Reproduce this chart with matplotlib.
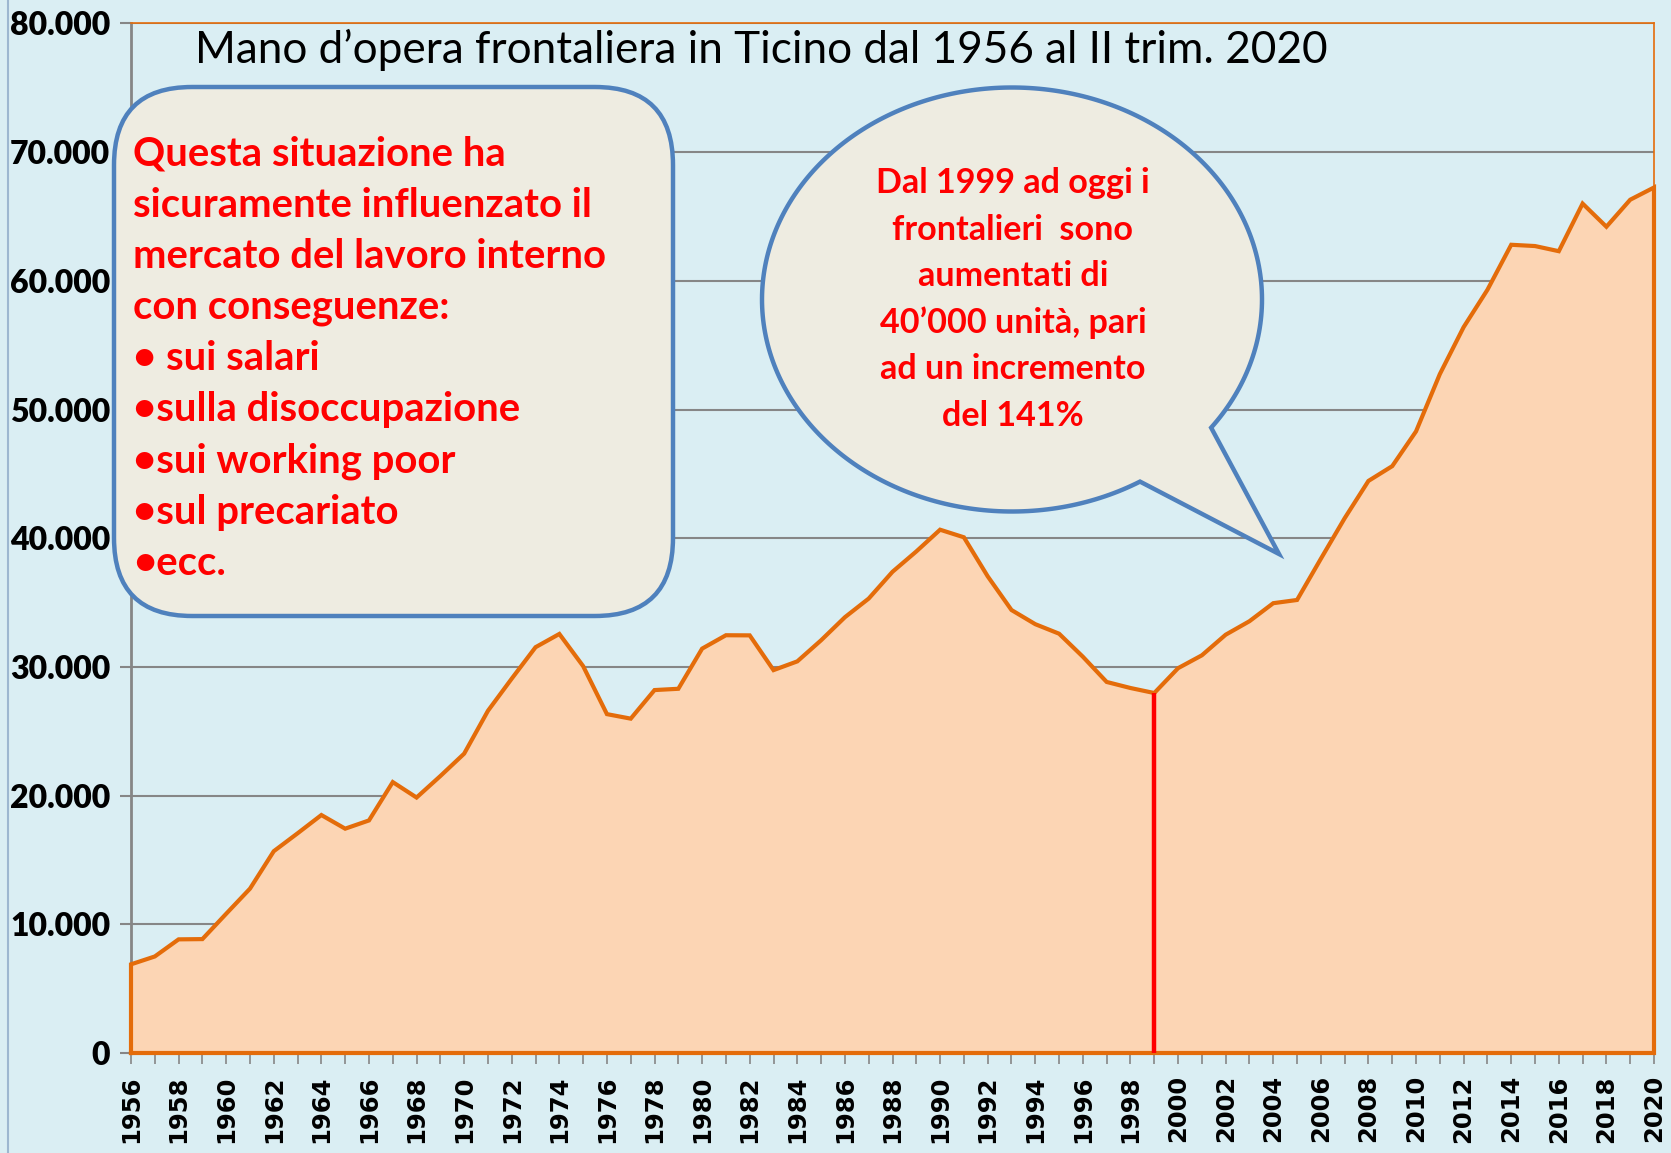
import matplotlib.pyplot as plt
import numpy as np
from matplotlib.patches import FancyBboxPatch, PathPatch
from matplotlib.path import Path

# frontalieri in Ticino, valori annuali
years = list(range(1956, 2021))
frontalieri = [6890, 7500, 8830, 8850, 10820, 12770, 15680, 17070, 18490, 17430,
               18070, 21050, 19850, 21520, 23260, 26590, 29090, 31530, 32560, 30060,
               26330, 25980, 28200, 28300, 31420, 32460, 32450, 29750, 30430, 32070,
               33860, 35310, 37390, 38970, 40660, 40070, 37040, 34420, 33320, 32580,
               30790, 28830, 28360, 27970, 29900, 30900, 32500, 33550, 34950, 35200,
               38400, 41550, 44450, 45600, 48300, 52750, 56400, 59300, 62800, 62700,
               62300, 66000, 64200, 66300, 67250]
marker_year = 1999
y_ticks = list(range(0, 80001, 10000))
y_labels = ["0", "10.000", "20.000", "30.000", "40.000", "50.000", "60.000", "70.000", "80.000"]

title = "Mano d\u2019opera frontaliera in Ticino dal 1956 al II trim. 2020"
box_lines = ["Questa situazione ha",
             "sicuramente influenzato il",
             "mercato del lavoro interno",
             "con conseguenze:",
             "\u2022 sui salari",
             "\u2022sulla disoccupazione",
             "\u2022sui working poor",
             "\u2022sul precariato",
             "\u2022ecc."]
bubble_lines = ["Dal 1999 ad oggi i",
                "frontalieri  sono",
                "aumentati di",
                "40\u2019000 unit\u00e0, pari",
                "ad un incremento",
                "del 141%"]

BG = "#DAEEF3"
FILL = "#FCD5B4"
ORANGE = "#E46C0A"
BLUE = "#4F81BD"
BOXFILL = "#EEECE1"
W, H = 1671, 1153
FONT = ["Lato", "DejaVu Sans"]

fig = plt.figure(figsize=(W / 100, H / 100), dpi=100, facecolor=BG)
ax = fig.add_axes([131 / W, 1 - 1053 / H, (1654 - 131) / W, (1053 - 23.4) / H])
ax.set_facecolor(BG)

ax.fill_between(years, frontalieri, 0, facecolor=FILL, edgecolor="none", zorder=2)
xs = [years[0]] + years + [years[-1], years[0]]
ys = [0] + frontalieri + [0, 0]
ax.plot(xs, ys, color=ORANGE, lw=3, zorder=3, solid_joinstyle="miter", clip_on=False)
ax.vlines(marker_year, 0, frontalieri[years.index(marker_year)], color="red", lw=3.2, zorder=4)

ax.set_xlim(years[0], years[-1])
ax.set_ylim(0, 80000)
ax.set_yticks(y_ticks)
ax.set_yticklabels(y_labels, fontfamily=FONT, fontweight="heavy", fontsize=23)
ax.set_xticks(years[::2])
ax.set_xticks(years, minor=True)
ax.set_xticklabels([str(y) for y in years[::2]], rotation=90, fontweight="bold",
                   fontsize=17.5, fontfamily="DejaVu Sans")
ax.tick_params(axis="y", length=8, width=1.5, color="#868686", pad=7)
ax.tick_params(axis="x", which="both", length=8, width=1.2, color="#868686", pad=8)
ax.grid(axis="y", color="#868686", lw=1.5, zorder=1)
ax.set_axisbelow(True)
for s in ["top", "right"]:
    ax.spines[s].set_color(ORANGE)
    ax.spines[s].set_linewidth(1.2)
for s in ["left", "bottom"]:
    ax.spines[s].set_color("#868686")
    ax.spines[s].set_linewidth(2)

# overlay in pixel coordinates for the callouts
ov = fig.add_axes([0, 0, 1, 1])
ov.set_xlim(0, W)
ov.set_ylim(H, 0)
ov.axis("off")
ov.patch.set_alpha(0)

ov.plot([8, 8], [0, H], color="#9DB7D0", lw=1.5)

ov.text(195, 50, title, fontsize=31.8, fontfamily=FONT, va="center", ha="left")

box = FancyBboxPatch((114, 87), 559, 529, boxstyle="round,pad=0,rounding_size=78",
                     facecolor=BOXFILL, edgecolor=BLUE, lw=3.2, zorder=5)
ov.add_patch(box)
for i, line in enumerate(box_lines):
    ov.text(133, 154 + i * 51.2, line, color="red", fontsize=28.8, fontweight="bold",
            fontfamily=FONT, va="center", ha="left", zorder=6)

# speech bubble: ellipse with a tail
cx, cy, a, b = 1012, 299.5, 250, 212
t1, t2 = np.deg2rad(59.2), np.deg2rad(37.2 + 360)
t = np.linspace(t1, t2, 300)
pts = np.column_stack([cx + a * np.cos(t), cy + b * np.sin(t)])
pts = np.vstack([pts, [1279, 554], pts[0]])
codes = [Path.MOVETO] + [Path.LINETO] * (len(pts) - 2) + [Path.CLOSEPOLY]
bubble = PathPatch(Path(pts, codes), facecolor=BOXFILL, edgecolor=BLUE, lw=3.2,
                   joinstyle="miter", zorder=5)
ov.add_patch(bubble)
for i, line in enumerate(bubble_lines):
    ov.text(1013, 183 + i * 46.6, line, color="red", fontsize=24.6, fontweight="bold",
            fontfamily=FONT, va="center", ha="center", zorder=6)

fig.savefig("out.png", dpi=100, facecolor=BG)
